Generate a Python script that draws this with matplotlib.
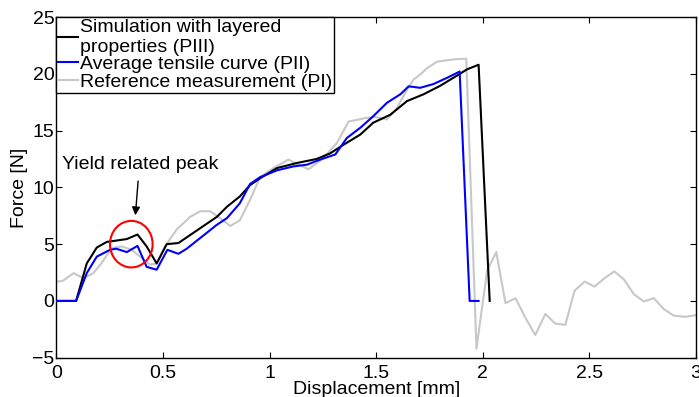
import matplotlib
matplotlib.use("Agg")
import matplotlib.pyplot as plt
from matplotlib.patches import Ellipse

plt.rcParams['font.family'] = ['Liberation Sans', 'DejaVu Sans']
plt.rcParams['font.size'] = 14

# Simulation with layered properties (PIII)
x_piii = [0, 0.092, 0.142, 0.189, 0.236, 0.275, 0.33, 0.38, 0.423, 0.47, 0.517, 0.572,
          0.752, 0.8, 0.86, 0.908, 0.955, 1.034, 1.128, 1.22, 1.284, 1.346, 1.425, 1.486,
          1.566, 1.644, 1.722, 1.8, 1.879, 1.926, 1.98, 2.032]
y_piii = [0, 0, 3.3, 4.7, 5.2, 5.3, 5.45, 5.85, 4.8, 3.3, 5.0, 5.1,
          7.4, 8.3, 9.2, 10.2, 10.8, 11.7, 12.15, 12.5, 13.0, 13.75, 14.65, 15.7,
          16.4, 17.6, 18.2, 18.95, 19.85, 20.4, 20.8, 0]

# Average tensile curve (PII)
x_pii = [0, 0.092, 0.142, 0.189, 0.251, 0.28, 0.33, 0.38, 0.423, 0.47, 0.52, 0.572, 0.611,
         0.752, 0.8, 0.86, 0.908, 0.955, 1.034, 1.112, 1.175, 1.237, 1.308, 1.362, 1.425,
         1.486, 1.55, 1.613, 1.652, 1.706, 1.768, 1.832, 1.891, 1.938, 1.98]
y_pii = [0, 0, 2.45, 3.9, 4.5, 4.6, 4.3, 4.85, 3.0, 2.75, 4.5, 4.15, 4.6,
         6.7, 7.3, 8.6, 10.3, 10.9, 11.5, 11.85, 12.0, 12.45, 12.9, 14.35, 15.25,
         16.27, 17.45, 18.2, 18.9, 18.77, 19.1, 19.65, 20.2, 0, 0]

# Reference measurement (PI)
x_pi = [0, 0.03, 0.08, 0.126, 0.173, 0.21, 0.26, 0.306, 0.353, 0.392, 0.439, 0.47, 0.509,
        0.564, 0.627, 0.674, 0.72, 0.767, 0.815, 0.86, 0.908, 0.955, 1.018, 1.088, 1.135,
        1.182, 1.245, 1.315, 1.37, 1.448, 1.495, 1.55, 1.597, 1.644, 1.675, 1.707, 1.738,
        1.785, 1.832, 1.879, 1.922, 1.97, 2.02, 2.063, 2.106, 2.153, 2.2, 2.246, 2.293,
        2.34, 2.387, 2.43, 2.477, 2.524, 2.57, 2.617, 2.661, 2.708, 2.755, 2.802, 2.849,
        2.896, 2.95, 3.0]
y_pi = [1.7, 1.77, 2.45, 2.0, 2.45, 3.3, 4.65, 4.8, 4.5, 3.9, 3.2, 3.3, 4.8,
        6.3, 7.4, 7.9, 7.9, 7.3, 6.6, 7.1, 8.9, 10.9, 11.7, 12.45, 12.0,
        11.6, 12.45, 13.9, 15.8, 16.1, 16.2, 15.98, 17.0, 18.6, 19.5, 19.95, 20.5,
        21.07, 21.2, 21.3, 21.33, -4.2, 2.7, 4.3, -0.2, 0.24, -1.5, -3.0, -1.15,
        -2.0, -2.1, 0.9, 1.7, 1.26, 2.0, 2.6, 1.9, 0.6, -0.05, 0.24, -0.73,
        -1.3, -1.4, -1.25]

labels = ['Simulation with layered\nproperties (PIII)',
          'Average tensile curve (PII)',
          'Reference measurement (PI)']
x_ticks = [0, 0.5, 1, 1.5, 2, 2.5, 3]
y_ticks = [-5, 0, 5, 10, 15, 20, 25]

fig = plt.figure(figsize=(6.99, 3.97), dpi=100)
ax = fig.add_axes([0.0808, 0.099, 0.915, 0.858])

ax.plot(x_pi, y_pi, color='#c8c8c8', lw=1.5, label=labels[2], zorder=2)
ax.plot(x_piii, y_piii, color='black', lw=1.5, label=labels[0], zorder=3)
ax.plot(x_pii, y_pii, color='#0000ff', lw=1.5, label=labels[1], zorder=3)

ax.set_xlim(0, 3)
ax.set_ylim(-5, 25)
ax.set_xticks(x_ticks)
ax.set_xticklabels(['0', '0.5', '1', '1.5', '2', '2.5', '3'])
ax.set_yticks(y_ticks)
ax.set_yticklabels(['\u22125', '0', '5', '10', '15', '20', '25'])
ax.tick_params(direction='in', top=True, right=True, length=4, width=0.8)
ax.tick_params(axis='x', pad=5.5)
ax.tick_params(axis='y', pad=1.5)
for s in ax.spines.values():
    s.set_linewidth(1.0)

ax.set_xlabel('Displacement [mm]', labelpad=-1)
ax.set_ylabel('Force [N]', labelpad=3)

handles, labs = ax.get_legend_handles_labels()
order = [1, 2, 0]
leg = ax.legend([handles[i] for i in order], [labs[i] for i in order],
                loc='upper left', bbox_to_anchor=(0, 1), borderaxespad=0,
                frameon=True, fancybox=False, edgecolor='black', framealpha=1,
                handlelength=1.0, handletextpad=0.12, labelspacing=0.0,
                borderpad=0.1, fontsize=14)
leg.get_frame().set_linewidth(1.0)

ax.add_patch(Ellipse((0.351, 5.0), 0.2, 4.1, fill=False, edgecolor='red', lw=1.5, zorder=4))
ax.text(0.024, 12.0, 'Yield related peak', ha='left', va='center', fontsize=14)
ax.annotate('', xy=(0.369, 7.3), xytext=(0.384, 10.8),
            arrowprops=dict(arrowstyle='-|>', color='black', lw=1, mutation_scale=12))

fig.savefig('out.png', dpi=100)
